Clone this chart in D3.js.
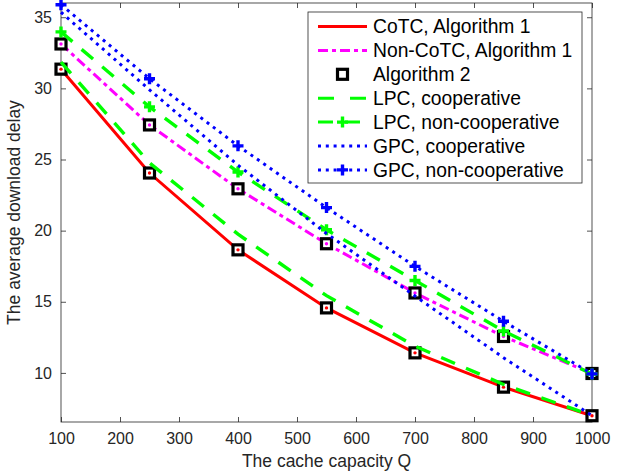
<!DOCTYPE html>
<html>
<head>
<meta charset="utf-8">
<script src="https://cdn.jsdelivr.net/npm/d3@7"></script>
<style>
  body { margin: 0; background: #fff; }
  svg { display: block; font-family: "Liberation Sans", Arial, sans-serif; }
</style>
</head>
<body>
<div id="chart"></div>
<script>
// data
var capacity = [100, 250, 400, 550, 700, 850, 1000];
var cotcAlg1 = [31.35, 24.05, 18.65, 14.57, 11.41, 9.0, 6.99];
var nonCotcAlg1 = [33.12, 27.43, 22.94, 19.08, 15.62, 12.56, 9.96];
var lpcCoop = [31.85, 24.76, 19.75, 15.43, 11.88, 9.19, 7.0];
var lpcNonCoop = [33.97, 28.7, 24.12, 20.06, 16.5, 12.95, 9.92];
var gpcCoop = [35.35, 29.9, 24.6, 19.8, 15.4, 11.07, 7.0];
var gpcNonCoop = [35.88, 30.68, 25.96, 21.62, 17.49, 13.63, 9.93];
var xTicks = [100, 200, 300, 400, 500, 600, 700, 800, 900, 1000];
var yTicks = [10, 15, 20, 25, 30, 35];

var svgWidth = 632,
	svgHeight = 475,
	margin = {top: 3, right: 40, bottom: 53, left: 61},
	width = svgWidth - margin.left - margin.right,
	height = svgHeight - margin.top - margin.bottom;

var axisColor = "#262626";

var svg = d3.select("#chart").append("svg")
	.attr("width", svgWidth)
	.attr("height", svgHeight)
	.append("g")
	.attr("transform", "translate(" + margin.left + "," + margin.top + ")");

var x = d3.scaleLinear().domain([100, 1000]).range([0, width]);
var y = d3.scaleLinear().domain([6.55, 36]).range([height, 0]);

// axes, box style with inward ticks
function styleAxis(g) {
	g.select(".domain").remove();
	g.selectAll(".tick line").attr("stroke", axisColor).attr("stroke-width", 0.8);
	g.selectAll(".tick text").attr("fill", axisColor).attr("font-size", 16)
		.attr("font-family", "Liberation Sans, Arial, sans-serif");
}

svg.append("g")
	.attr("transform", "translate(0," + height + ")")
	.call(d3.axisBottom(x).tickValues(xTicks).tickFormat(d3.format("d"))
		.tickSizeInner(-5).tickSizeOuter(0).tickPadding(11))
	.call(styleAxis);
svg.append("g")
	.call(d3.axisTop(x).tickValues(xTicks).tickSizeInner(-5).tickSizeOuter(0).tickFormat(""))
	.call(styleAxis);
svg.append("g")
	.call(d3.axisLeft(y).tickValues(yTicks).tickSizeInner(-5).tickSizeOuter(0).tickPadding(9))
	.call(styleAxis);
svg.append("g")
	.attr("transform", "translate(" + width + ",0)")
	.call(d3.axisRight(y).tickValues(yTicks).tickSizeInner(-5).tickSizeOuter(0).tickFormat(""))
	.call(styleAxis);

svg.append("rect")
	.attr("width", width).attr("height", height)
	.attr("fill", "none").attr("stroke", axisColor).attr("stroke-width", 0.8);

svg.append("text")
	.attr("x", width / 2).attr("y", height + 45)
	.attr("text-anchor", "middle").attr("font-size", 17.5).attr("fill", axisColor)
	.text("The cache capacity Q");
svg.append("text")
	.attr("transform", "translate(" + (-41) + "," + (height / 2) + ") rotate(-90)")
	.attr("text-anchor", "middle").attr("font-size", 17.5).attr("fill", axisColor)
	.text("The average download delay");

// series
var line = d3.line()
	.x(function(d) { return x(d[0]); })
	.y(function(d) { return y(d[1]); });

function pairs(vals) {
	return capacity.map(function(c, i) { return [c, vals[i]]; });
}

function drawLine(vals, color, dash, w) {
	svg.append("path")
		.datum(pairs(vals))
		.attr("d", line)
		.attr("fill", "none")
		.attr("stroke", color)
		.attr("stroke-width", w || 3)
		.attr("stroke-dasharray", dash);
}

function plus(g, color) {
	g.append("path")
		.attr("d", "M-5.5,0H5.5M0,-5.5V5.5")
		.attr("stroke", color)
		.attr("stroke-width", 3.4)
		.attr("fill", "none");
}

function square(g) {
	g.append("rect")
		.attr("x", -5).attr("y", -5).attr("width", 10).attr("height", 10)
		.attr("fill", "#fff").attr("stroke", "#000").attr("stroke-width", 3.2);
}

function drawMarkers(vals, fn, color) {
	svg.append("g").selectAll("g")
		.data(pairs(vals))
		.enter().append("g")
		.attr("transform", function(d) { return "translate(" + x(d[0]) + "," + y(d[1]) + ")"; })
		.each(function() { fn(d3.select(this), color); });
}

var dashDot = "10,4,4,4";
var dashed = "15,12";
var dotted = "3,4.8";

drawLine(cotcAlg1, "#ff0000", null);
drawLine(nonCotcAlg1, "#ff00ff", dashDot);
drawMarkers(cotcAlg1, square);
drawMarkers(nonCotcAlg1, square);
// small coloured centre of the Algorithm 1 points
svg.append("g").selectAll("circle")
	.data(pairs(cotcAlg1)).enter().append("circle")
	.attr("cx", function(d) { return x(d[0]); }).attr("cy", function(d) { return y(d[1]); })
	.attr("r", 1.7).attr("fill", "#ff0000");
svg.append("g").selectAll("circle")
	.data(pairs(nonCotcAlg1)).enter().append("circle")
	.attr("cx", function(d) { return x(d[0]); }).attr("cy", function(d) { return y(d[1]); })
	.attr("r", 1.7).attr("fill", "#ff00ff");
drawLine(lpcCoop, "#00ff00", dashed, 3.4);
drawLine(lpcNonCoop, "#00ff00", dashed, 3.4);
drawMarkers(lpcNonCoop, plus, "#00ff00");
drawLine(gpcCoop, "#0000ff", dotted);
drawLine(gpcNonCoop, "#0000ff", dotted);
drawMarkers(gpcNonCoop, plus, "#0000ff");

// legend
var legendItems = [
	{name: "CoTC, Algorithm 1", color: "#ff0000", dash: null, line: true, marker: null},
	{name: "Non-CoTC, Algorithm 1", color: "#ff00ff", dash: dashDot, line: true, marker: null},
	{name: "Algorithm 2", color: "#000", dash: null, line: false, marker: square},
	{name: "LPC, cooperative", color: "#00ff00", dash: "16,16", line: true, marker: null},
	{name: "LPC, non-cooperative", color: "#00ff00", dash: dashed, line: true, marker: plus},
	{name: "GPC, cooperative", color: "#0000ff", dash: dotted, line: true, marker: null},
	{name: "GPC, non-cooperative", color: "#0000ff", dash: dotted, line: true, marker: plus}
];

var legend = svg.append("g")
	.attr("transform", "translate(" + (308 - margin.left) + "," + (12 - margin.top) + ")");
legend.append("rect")
	.attr("width", 274).attr("height", 171)
	.attr("fill", "#fff").attr("stroke", axisColor).attr("stroke-width", 0.8);

var rows = legend.selectAll(".row")
	.data(legendItems)
	.enter().append("g")
	.attr("class", "row")
	.attr("transform", function(d, i) { return "translate(0," + (14.5 + i * 23.9) + ")"; });

rows.each(function(d) {
	var g = d3.select(this);
	if (d.line) {
		g.append("line")
			.attr("x1", 10).attr("x2", 59).attr("y1", 0).attr("y2", 0)
			.attr("stroke", d.color).attr("stroke-width", 3)
			.attr("stroke-dasharray", d.dash);
	}
	if (d.marker) {
		var m = g.append("g").attr("transform", "translate(34.5,0)");
		d.marker(m, d.color);
	}
	g.append("text")
		.attr("x", 65).attr("dy", "0.36em")
		.attr("font-size", 19.3).attr("fill", "#000")
		.text(d.name);
});
</script>
</body>
</html>
